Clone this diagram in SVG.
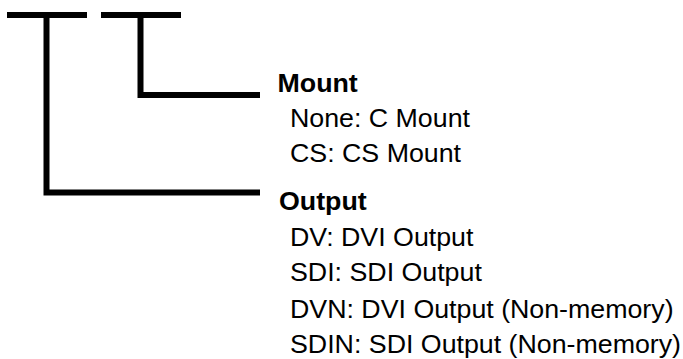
<svg xmlns="http://www.w3.org/2000/svg" width="683" height="359" viewBox="0 0 683 359">
<style>
.ln{fill:none;stroke:#000;stroke-width:6;stroke-linecap:butt;stroke-linejoin:miter}
.h{font-family:"Liberation Sans",Arial,sans-serif;font-size:25.5px;font-weight:bold;fill:#000}
.t{font-family:"Liberation Sans",Arial,sans-serif;font-size:25.5px;fill:#000}
</style>
<rect width="683" height="359" fill="#fff"/>
<g id="connectors">
<path class="ln" d="M7,15 H87"/>
<path class="ln" d="M101,15 H181"/>
<path class="ln" d="M46.5,15 V192.5 H260"/>
<path class="ln" d="M140.5,15 V95 H260"/>
</g>
<g id="mount">
<text class="h" transform="translate(277.5,92) scale(1.05,1)">Mount</text>
<text class="t" transform="translate(290,127) scale(1.05,1)">None: C Mount</text>
<text class="t" transform="translate(290,162) scale(1.05,1)">CS: CS Mount</text>
</g>
<g id="output">
<text class="h" transform="translate(279,210) scale(1.05,1)">Output</text>
<text class="t" transform="translate(290,246) scale(1.05,1)">DV: DVI Output</text>
<text class="t" transform="translate(290,281) scale(1.05,1)">SDI: SDI Output</text>
<text class="t" transform="translate(290,318) scale(1.05,1)">DVN: DVI Output (Non-memory)</text>
<text class="t" transform="translate(290,353) scale(1.05,1)">SDIN: SDI Output (Non-memory)</text>
</g>
</svg>
